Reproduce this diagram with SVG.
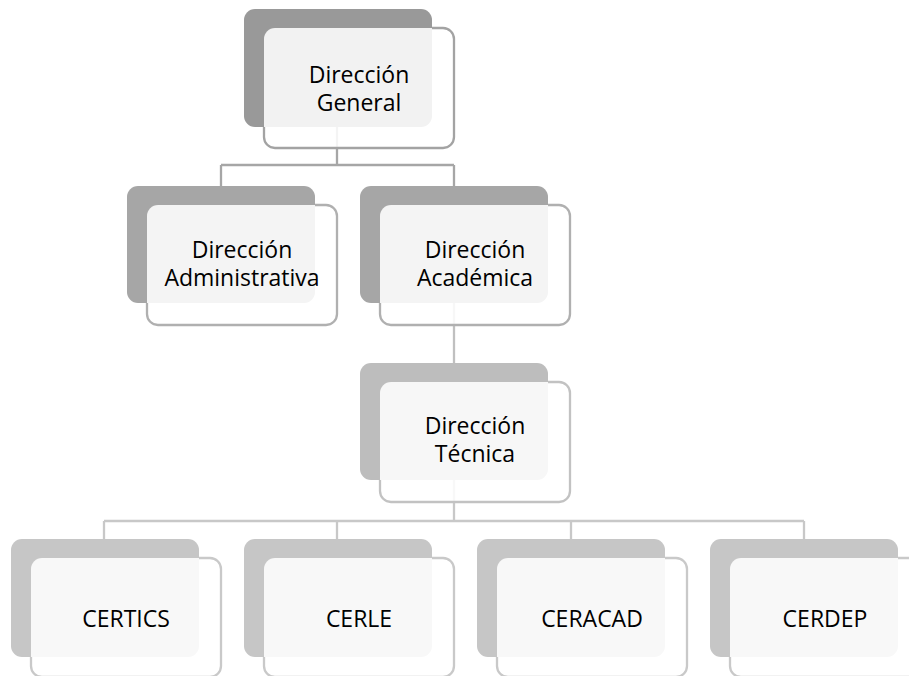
<svg xmlns="http://www.w3.org/2000/svg" width="909" height="676" viewBox="0 0 909 676">
  <style>
    .lbl { font-family: "Open Sans", "Noto Sans", sans-serif; font-size: 23px; fill: #000; text-anchor: middle; }
    .face { fill: #fff; fill-opacity: 0.87; }
    .edge { fill: none; stroke-width: 2.3; }
    .wire { fill: none; stroke-width: 2.3; }
    .l1 .back { fill: #999999; } .l1 .edge { stroke: #a3a3a3; }
    .l2 .back { fill: #a6a6a6; } .l2 .edge { stroke: #b0b0b0; }
    .l3 .back { fill: #bdbdbd; } .l3 .edge { stroke: #c2c2c2; }
    .l4 .back { fill: #c6c6c6; } .l4 .edge { stroke: #c9c9c9; }
  </style>
  <defs>
    <!-- each mask hides the outline of the front card where it lies over its own back card -->
    <mask id="m-gen"><rect width="909" height="676" fill="#fff"/><rect x="244" y="9" width="188" height="118" rx="11" fill="#000"/></mask>
    <mask id="m-adm"><rect width="909" height="676" fill="#fff"/><rect x="127" y="186" width="188" height="117" rx="11" fill="#000"/></mask>
    <mask id="m-aca"><rect width="909" height="676" fill="#fff"/><rect x="360" y="186" width="188" height="117" rx="11" fill="#000"/></mask>
    <mask id="m-tec"><rect width="909" height="676" fill="#fff"/><rect x="360" y="363" width="188" height="117" rx="11" fill="#000"/></mask>
    <mask id="m-certics"><rect width="909" height="676" fill="#fff"/><rect x="11" y="539" width="188" height="118" rx="11" fill="#000"/></mask>
    <mask id="m-cerle"><rect width="909" height="676" fill="#fff"/><rect x="244" y="539" width="188" height="118" rx="11" fill="#000"/></mask>
    <mask id="m-ceracad"><rect width="909" height="676" fill="#fff"/><rect x="477" y="539" width="188" height="118" rx="11" fill="#000"/></mask>
    <mask id="m-cerdep"><rect width="909" height="676" fill="#fff"/><rect x="710" y="539" width="188" height="118" rx="11" fill="#000"/></mask>
  </defs>

  <!-- connectors -->
  <g id="connectors">
    <path class="wire" stroke="#a6a6a6" d="M337,127 V165 M221,165 H454 M221,165 V186 M454,165 V186"/>
    <path class="wire" stroke="#c0c0c0" d="M454,303 V363"/>
    <path class="wire" stroke="#c8c8c8" d="M454,480 V521 M104,521 H804 M104,521 V539 M337,521 V539 M571,521 V539 M804,521 V539"/>
  </g>

  <g id="direccion-general" class="l1">
    <rect class="back" x="244" y="9" width="188" height="118" rx="11"/>
    <rect class="face" x="264" y="28" width="190" height="120" rx="11"/>
    <rect class="edge" x="264" y="28" width="190" height="120" rx="11" mask="url(#m-gen)"/>
    <text class="lbl" x="359" y="83">Dirección</text>
    <text class="lbl" x="359" y="111">General</text>
  </g>

  <g id="direccion-administrativa" class="l2">
    <rect class="back" x="127" y="186" width="188" height="117" rx="11"/>
    <rect class="face" x="147" y="205" width="190" height="120" rx="11"/>
    <rect class="edge" x="147" y="205" width="190" height="120" rx="11" mask="url(#m-adm)"/>
    <text class="lbl" x="242" y="258">Dirección</text>
    <text class="lbl" x="242" y="286">Administrativa</text>
  </g>

  <g id="direccion-academica" class="l2">
    <rect class="back" x="360" y="186" width="188" height="117" rx="11"/>
    <rect class="face" x="380" y="205" width="190" height="120" rx="11"/>
    <rect class="edge" x="380" y="205" width="190" height="120" rx="11" mask="url(#m-aca)"/>
    <text class="lbl" x="475" y="258">Dirección</text>
    <text class="lbl" x="475" y="286">Académica</text>
  </g>

  <g id="direccion-tecnica" class="l3">
    <rect class="back" x="360" y="363" width="188" height="117" rx="11"/>
    <rect class="face" x="380" y="382" width="190" height="120" rx="11"/>
    <rect class="edge" x="380" y="382" width="190" height="120" rx="11" mask="url(#m-tec)"/>
    <text class="lbl" x="475" y="434">Dirección</text>
    <text class="lbl" x="475" y="462">Técnica</text>
  </g>

  <g id="certics" class="l4">
    <rect class="back" x="11" y="539" width="188" height="118" rx="11"/>
    <rect class="face" x="31" y="558" width="190" height="119" rx="11"/>
    <rect class="edge" x="31" y="558" width="190" height="119" rx="11" mask="url(#m-certics)"/>
    <text class="lbl" x="126" y="627">CERTICS</text>
  </g>

  <g id="cerle" class="l4">
    <rect class="back" x="244" y="539" width="188" height="118" rx="11"/>
    <rect class="face" x="264" y="558" width="190" height="119" rx="11"/>
    <rect class="edge" x="264" y="558" width="190" height="119" rx="11" mask="url(#m-cerle)"/>
    <text class="lbl" x="359" y="627">CERLE</text>
  </g>

  <g id="ceracad" class="l4">
    <rect class="back" x="477" y="539" width="188" height="118" rx="11"/>
    <rect class="face" x="497" y="558" width="190" height="119" rx="11"/>
    <rect class="edge" x="497" y="558" width="190" height="119" rx="11" mask="url(#m-ceracad)"/>
    <text class="lbl" x="592" y="627">CERACAD</text>
  </g>

  <g id="cerdep" class="l4">
    <rect class="back" x="710" y="539" width="188" height="118" rx="11"/>
    <rect class="face" x="730" y="558" width="190" height="119" rx="11"/>
    <rect class="edge" x="730" y="558" width="190" height="119" rx="11" mask="url(#m-cerdep)"/>
    <text class="lbl" x="825" y="627">CERDEP</text>
  </g>
</svg>
